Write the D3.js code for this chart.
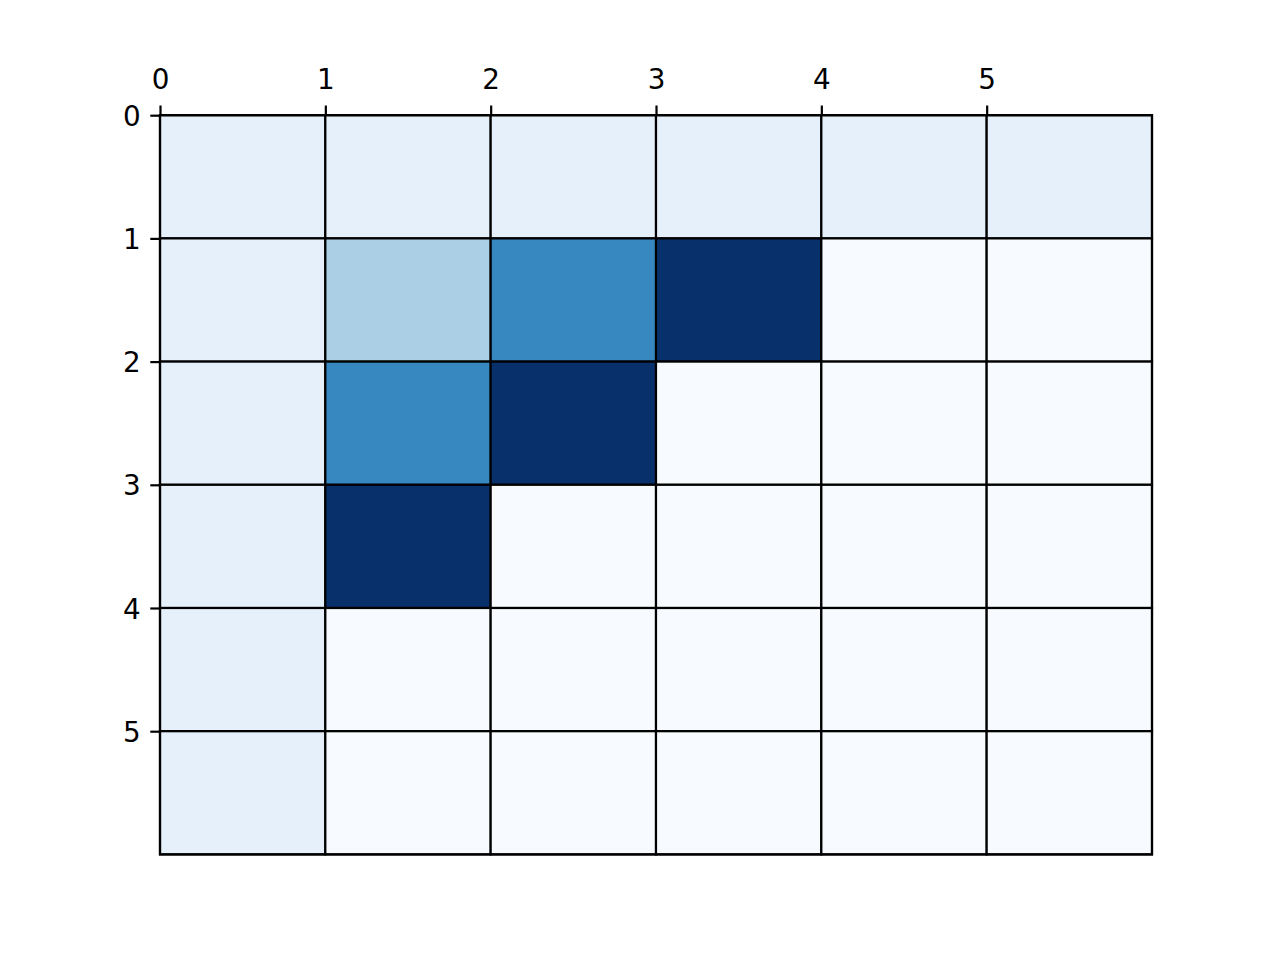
<!DOCTYPE html>
<html><head><meta charset="utf-8">
<script src="https://cdn.jsdelivr.net/npm/d3@7"></script>
<style>body{margin:0;background:#fff;} text{font-family:"DejaVu Sans",sans-serif;}</style>
</head><body>
<svg id="chart" width="1280" height="960"></svg>
<script>
const rowLabels = [0,1,2,3,4,5];
const colLabels = [0,1,2,3,4,5];
const xTicks = [0,1,2,3,4,5];
const yTicks = [0,1,2,3,4,5];
const gridValues = [
  [1,1,1,1,1,1],
  [1,4,8,12,0,0],
  [1,8,12,0,0,0],
  [1,12,0,0,0,0],
  [1,0,0,0,0,0],
  [1,0,0,0,0,0]
];
const vmax = 12;
const bluesStops = ["#f7fbff","#deebf7","#c6dbef","#9ecae1","#6baed6","#4292c6","#2171b5","#08519c","#08306b"];

const svg = d3.select("#chart");
const L=160,R=1152,T=115.2,B=854.4;
const x = d3.scaleLinear().domain([0,6]).range([L,R]);
const y = d3.scaleLinear().domain([0,6]).range([T,B]);
const color = d3.scaleLinear()
  .domain(bluesStops.map((_,i)=>i/(bluesStops.length-1)*vmax))
  .range(bluesStops).interpolate(d3.interpolateRgb).clamp(true);

const cells = [];
gridValues.forEach((row,r)=>row.forEach((v,c)=>cells.push({r,c,v})));
svg.append("g").selectAll("rect").data(cells).join("rect")
  .attr("x",d=>x(d.c)).attr("y",d=>y(d.r))
  .attr("width",d=>x(d.c+1)-x(d.c)).attr("height",d=>y(d.r+1)-y(d.r))
  .attr("fill",d=>color(d.v)).attr("stroke","#000").attr("stroke-width",2.2);

const xAxis = svg.append("g").attr("transform",`translate(0,${T})`)
  .call(d3.axisTop(x).tickValues(xTicks).tickFormat(d3.format("d")).tickSize(9.7).tickPadding(16.2));
const yAxis = svg.append("g").attr("transform",`translate(${L},0)`)
  .call(d3.axisLeft(y).tickValues(yTicks).tickFormat(d3.format("d")).tickSize(9.7).tickPadding(9.7));
[xAxis,yAxis].forEach(a=>{
  a.attr("font-size",null);
  a.select(".domain").remove();
  a.selectAll("line").attr("stroke","#000").attr("stroke-width",2.2);
  a.selectAll("text").style("font-size","27.8px").attr("fill","#000").style("font-family","DejaVu Sans");
});
yAxis.selectAll("text").attr("dy","0.36em");
svg.append("rect").attr("x",L).attr("y",T).attr("width",R-L).attr("height",B-T)
  .attr("fill","none").attr("stroke","#000").attr("stroke-width",2.2);
</script>
</body></html>
